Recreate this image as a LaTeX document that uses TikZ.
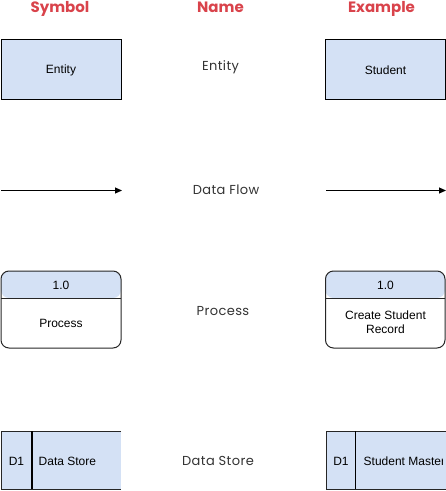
\documentclass[tikz,border=0pt]{standalone}
\usepackage{fontspec}
\setmainfont{Liberation Sans}
\newfontfamily\headfont{Poppins}
\newfontfamily\namefont[LetterSpace=3]{Poppins}
\usetikzlibrary{arrows.meta}
\definecolor{boxblue}{HTML}{D4E1F5}
\definecolor{headred}{HTML}{D9434B}
\definecolor{namegray}{HTML}{333333}
\tikzset{
  header/.style={font=\headfont\bfseries\fontsize{15}{17}\selectfont, text=headred, anchor=base, inner sep=0pt},
  namelabel/.style={font=\namefont\fontsize{13}{15}\selectfont, text=namegray, inner sep=0pt},
  boxtext/.style={font=\fontsize{12}{14}\selectfont, inner sep=0pt, align=center},
  entitybox/.style={draw=black, fill=boxblue, line width=1pt, minimum width=120pt, minimum height=60pt, inner sep=0pt},
  flowline/.style={line width=1pt, -{Triangle[length=7pt,width=6pt]}},
  outline/.style={draw=black!85, line width=1pt},
  divider/.style={draw=black, line width=1.6pt},
}
\begin{document}
\begin{tikzpicture}[x=1pt,y=-1pt]
\useasboundingbox (0,0) rectangle (446,491);
% headers
\node[header] (hsym) at (60,12) {Symbol};
\node[header] (hname) at (220.5,12) {Name};
\node[header] (hex) at (381.5,12) {Example};
% names
\node[namelabel] (nent) at (220.5,67.5) {Entity};
\node[namelabel] (nflow) at (226,190) {Data Flow};
\node[namelabel] (nproc) at (223,311.5) {Process};
\node[namelabel] (nstore) at (218,461) {Data Store};
% entity
\node[entitybox] (ent1) at (61,69.5) {};
\node[boxtext] (ent1t) at (61,70.5) {Entity};
\node[entitybox] (ent2) at (385.5,69.5) {};
\node[boxtext] (ent2t) at (385.5,70.5) {Student};
% data flow
\coordinate (f1a) at (1,190.5);
\coordinate (f1b) at (122,190.5);
\coordinate (f2a) at (326,190.5);
\coordinate (f2b) at (446,190.5);
\draw[flowline] (f1a) -- (f1b);
\draw[flowline] (f2a) -- (f2b);
% process symbol
\fill[boxblue, rounded corners=8pt] (1,298) |- (121,271) -- (121,298) -- cycle;
\draw[outline, rounded corners=8pt] (1,271) rectangle (121,348);
\draw[outline] (1,298) -- (121,298);
\node[boxtext] (p1h) at (61,285) {1.0};
\node[boxtext] (p1b) at (61,323) {Process};
% process example
\fill[boxblue, rounded corners=8pt] (325.5,298) |- (445,271) -- (445,298) -- cycle;
\draw[outline, rounded corners=8pt] (325.5,271) rectangle (445,348);
\draw[outline] (325.5,298) -- (445,298);
\node[boxtext] (p2h) at (385.5,285) {1.0};
\node[boxtext] (p2b) at (385.5,322.5) {Create Student\\Record};
% data store symbol
\fill[boxblue] (1,431) rectangle (121,489);
\draw[outline] (121,431) -- (1,431) -- (1,489) -- (121,489);
\draw[divider] (32,431) -- (32,489);
\node[boxtext] (d1id) at (16.5,461.5) {D1};
\node[boxtext, anchor=west] (d1name) at (38.5,461.5) {Data Store};
% data store example
\fill[boxblue] (326,431) rectangle (446,489);
\draw[outline] (446,431) -- (326,431) -- (326,489) -- (446,489);
\draw[divider] (355.5,431) -- (355.5,489);
\node[boxtext] (d2id) at (341,461.5) {D1};
\begin{scope}
\clip (357,431) rectangle (442,489);
\node[boxtext, anchor=west] (d2name) at (363.5,461.5) {Student Master};
\end{scope}
\end{tikzpicture}
\end{document}
